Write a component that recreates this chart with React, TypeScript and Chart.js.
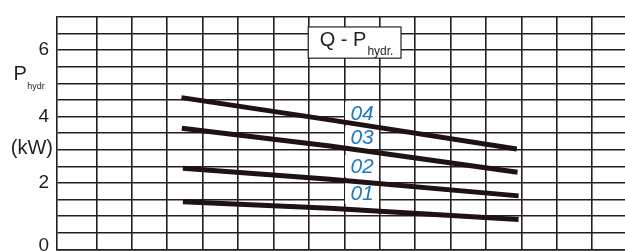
import React, { useEffect, useRef } from "react";
import { Chart, registerables } from "chart.js";

Chart.register(...registerables);

// ---- data (Q in grid columns, P_hydr in kW) ----
const q01 = [2.44, 6.59, 11.92];
const p01 = [1.43, 1.24, 0.9];
const q02 = [2.44, 6.59, 11.92];
const p02 = [2.44, 2.11, 1.61];
const q03 = [2.41, 6.59, 11.89];
const p03 = [3.65, 3.11, 2.32];
const q04 = [2.4, 6.59, 11.87];
const p04 = [4.57, 3.9, 3.02];

const seriesNames = ["01", "02", "03", "04"];
const seriesLabelQ = [7.5, 7.5, 7.5, 7.5];
const seriesLabelP = [1.7, 2.51, 3.37, 4.11];

const qGridTicks = [0, 1, 2, 3, 4, 5, 6, 7, 8, 9, 10, 11, 12, 13, 14, 15];
const pGridTicks = [0, 0.5, 1, 1.5, 2, 2.5, 3, 3.5, 4, 4.5, 5, 5.5, 6, 6.5, 7];
const pTickValues = [0, 2, 4, 6];
const pTickLabels = ["0", "2", "4", "6"];

const titleMain = "Q - P";
const titleSub = "hydr.";
const axisMain = "P";
const axisSub = "hydr";
const axisUnit = "(kW)";

const INK = "#231f20";
const LINE = "#1e1213";
const BLUE = "#1a7ac4";
const FONT = '"Liberation Sans", Arial, sans-serif';

const toPoints = (q: number[], p: number[]) => q.map((v, i) => ({ x: v, y: p[i] }));

const annotations = {
  id: "annotations",
  beforeDatasetsDraw(chart: any) {
    const { ctx, scales } = chart;
    const x = scales.x;
    const y = scales.y;
    ctx.save();
    seriesNames.forEach((name, i) => {
      const cx = x.getPixelForValue(seriesLabelQ[i]);
      const cy = y.getPixelForValue(seriesLabelP[i]);
      ctx.fillStyle = "#ffffff";
      ctx.fillRect(cx - 17, cy - 11, 34, 22);
      ctx.fillStyle = BLUE;
      ctx.font = `italic 21px ${FONT}`;
      ctx.textAlign = "center";
      ctx.textBaseline = "middle";
      ctx.fillText(name, cx, cy + 1);
    });
    ctx.restore();
  },
  afterDraw(chart: any) {
    const { ctx, scales } = chart;
    const x = scales.x;
    const y = scales.y;
    ctx.save();
    // title box
    const bx0 = x.getPixelForValue(5.98);
    const bx1 = x.getPixelForValue(8.6);
    const by0 = y.getPixelForValue(6.7);
    const by1 = y.getPixelForValue(5.76);
    ctx.fillStyle = "#ffffff";
    ctx.fillRect(bx0, by0, bx1 - bx0, by1 - by0);
    ctx.strokeStyle = INK;
    ctx.lineWidth = 1.2;
    ctx.strokeRect(bx0, by0, bx1 - bx0, by1 - by0);
    ctx.fillStyle = INK;
    ctx.textAlign = "left";
    ctx.textBaseline = "alphabetic";
    ctx.font = `20px ${FONT}`;
    const tx = bx0 + 11.5;
    const ty = by0 + 19.5;
    ctx.fillText(titleMain, tx, ty);
    const w = ctx.measureText(titleMain).width;
    ctx.font = `12px ${FONT}`;
    ctx.fillText(titleSub, tx + w + 1, ty + 8.5);

    // axis title
    ctx.font = `20px ${FONT}`;
    ctx.fillText(axisMain, 13.5, 79.5);
    ctx.font = `9px ${FONT}`;
    ctx.fillText(axisSub, 27.3, 88.5);
    ctx.font = `20px ${FONT}`;
    ctx.textAlign = "right";
    ctx.fillText(axisUnit, 53, 154);
    ctx.restore();
  },
};

export default function App() {
  const ref = useRef<HTMLCanvasElement | null>(null);

  useEffect(() => {
    if (!ref.current) return;
    document.body.style.overflow = "hidden";
    const mk = (q: number[], p: number[]) => ({
      data: toPoints(q, p),
      borderColor: LINE,
      borderWidth: 5,
      borderCapStyle: "butt" as const,
      pointRadius: 0,
      tension: 0,
      fill: false,
    });
    const chart = new Chart(ref.current, {
      type: "line",
      data: {
        datasets: [mk(q01, p01), mk(q02, p02), mk(q03, p03), mk(q04, p04)],
      },
      options: {
        animation: false,
        responsive: false,
        events: [],
        layout: { padding: { top: 17, right: 2.3, bottom: 12.7, left: 0 } },
        plugins: { legend: { display: false }, tooltip: { enabled: false }, title: { display: false } },
        scales: {
          x: {
            type: "linear",
            min: -1.113,
            max: 15,
            afterBuildTicks: (s: any) => {
              s.ticks = qGridTicks.map((v) => ({ value: v }));
            },
            afterFit: (s: any) => {
              s.height = 0;
              s.paddingLeft = 0;
              s.paddingRight = 0;
            },
            ticks: { display: false },
            grid: { color: INK, lineWidth: 1.6, drawTicks: false },
            border: { display: true, color: INK, width: 1.6 },
          },
          y: {
            type: "linear",
            min: 0,
            max: 7,
            afterBuildTicks: (s: any) => {
              s.ticks = pGridTicks.map((v) => ({ value: v }));
            },
            afterFit: (s: any) => {
              s.width = 57;
              s.paddingTop = 0;
              s.paddingBottom = 0;
            },
            ticks: {
              autoSkip: false,
              padding: 8,
              color: INK,
              font: { family: FONT, size: 19, lineHeight: 0.42 },
              callback: (v: any) => {
                const idx = pTickValues.indexOf(Number(v));
                if (idx < 0) return "";
                // the bottom label sits a little above its line, as in the original
                return Number(v) === 0 ? [pTickLabels[idx], ""] : pTickLabels[idx];
              },
            },
            grid: { color: INK, lineWidth: 1.6, drawTicks: false },
            border: { display: true, color: INK, width: 1.6 },
          },
        },
      },
      plugins: [annotations],
    });
    return () => chart.destroy();
  }, []);

  return (
    <div style={{ position: "fixed", left: 0, top: 0, width: 630, height: 262 }}>
      <canvas ref={ref} width={630} height={262} style={{ display: "block" }} />
    </div>
  );
}
